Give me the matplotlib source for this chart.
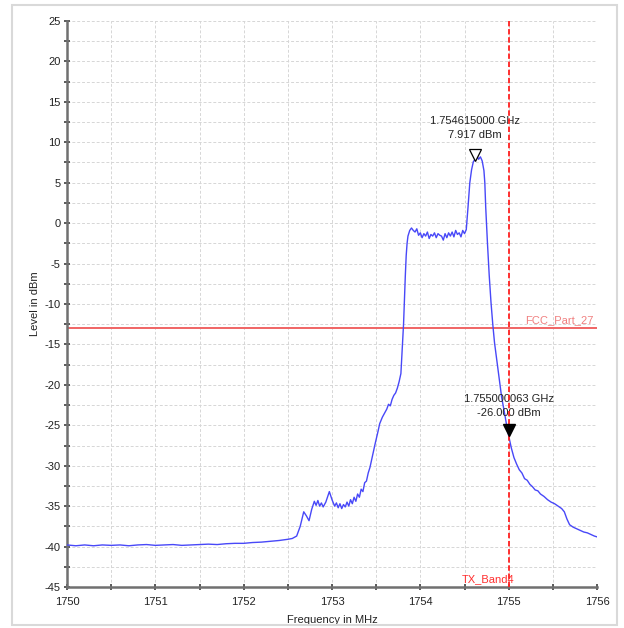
import matplotlib
matplotlib.use("Agg")
import matplotlib.pyplot as plt
from matplotlib.patches import Rectangle
from matplotlib.ticker import MultipleLocator

freq = [1750.0, 1750.1, 1750.2, 1750.3, 1750.4, 1750.5, 1750.6, 1750.7, 1750.8, 1750.9,
        1751.0, 1751.1, 1751.2, 1751.3, 1751.4, 1751.5, 1751.6, 1751.7, 1751.8, 1751.9,
        1752.0, 1752.1, 1752.2, 1752.3, 1752.4, 1752.5, 1752.55, 1752.6,
        1752.64, 1752.68, 1752.71, 1752.74, 1752.77, 1752.80, 1752.82, 1752.84, 1752.86, 1752.88,
        1752.90, 1752.93, 1752.97, 1753.00, 1753.03, 1753.05, 1753.07, 1753.09, 1753.11, 1753.13,
        1753.15, 1753.17, 1753.19, 1753.21, 1753.23, 1753.25, 1753.27, 1753.29, 1753.31, 1753.33,
        1753.35, 1753.37, 1753.39, 1753.41, 1753.43, 1753.46, 1753.49, 1753.52, 1753.54, 1753.57,
        1753.60, 1753.62, 1753.64, 1753.66, 1753.68, 1753.70, 1753.72, 1753.74, 1753.76, 1753.78,
        1753.79, 1753.80, 1753.81, 1753.82, 1753.83, 1753.84, 1753.85, 1753.86, 1753.88, 1753.90,
        1753.92, 1753.94, 1753.96, 1753.98, 1754.00, 1754.02, 1754.04, 1754.06, 1754.08, 1754.10,
        1754.12, 1754.14, 1754.16, 1754.18, 1754.20, 1754.22, 1754.24, 1754.26, 1754.28, 1754.30,
        1754.32, 1754.34, 1754.36, 1754.38, 1754.40, 1754.42, 1754.44, 1754.46, 1754.48, 1754.50,
        1754.52, 1754.54, 1754.56, 1754.58, 1754.60, 1754.62, 1754.64, 1754.66, 1754.68, 1754.70,
        1754.72, 1754.73, 1754.74, 1754.76, 1754.78, 1754.80, 1754.82, 1754.84, 1754.86, 1754.88,
        1754.90, 1754.92, 1754.94, 1754.96, 1754.98, 1755.00, 1755.03, 1755.06, 1755.09, 1755.12,
        1755.15, 1755.18, 1755.21, 1755.24, 1755.27, 1755.30, 1755.33, 1755.36, 1755.40, 1755.44,
        1755.48, 1755.52, 1755.56, 1755.60, 1755.63, 1755.66, 1755.69, 1755.73, 1755.77, 1755.81,
        1755.85, 1755.89, 1755.93, 1755.97, 1756.00]

level = [-39.8, -39.9, -39.8, -39.9, -39.8, -39.85, -39.8, -39.9, -39.8, -39.75,
         -39.85, -39.8, -39.75, -39.85, -39.8, -39.75, -39.7, -39.75, -39.65, -39.6,
         -39.6, -39.5, -39.45, -39.35, -39.25, -39.1, -39.0, -38.7,
         -37.5, -35.7, -36.2, -36.8, -35.4, -34.4, -34.9, -34.3, -35.0, -34.6,
         -35.1, -34.5, -33.2, -34.2, -35.0, -34.6, -35.2, -34.7, -35.3, -34.8,
         -35.1, -34.5, -35.0, -34.2, -34.7, -33.9, -34.4, -33.5, -33.9, -32.9,
         -33.2, -32.1, -31.9, -30.9, -30.2, -28.7, -27.2, -25.8, -24.8, -24.0,
         -23.4, -23.0, -22.4, -22.6, -21.8, -21.3, -21.0, -20.4, -19.6, -18.6,
         -16.5, -14.5, -12.5, -9.5, -6.5, -4.0, -2.5, -1.6, -0.9, -0.6,
         -0.9, -1.1, -0.7, -1.5, -1.2, -1.8, -1.3, -1.6, -1.1, -1.9,
         -1.4, -1.6, -1.2, -1.8, -1.3, -1.5, -1.6, -2.1, -1.3, -1.8,
         -1.2, -1.6, -1.1, -1.7, -0.9, -1.4, -1.2, -1.7, -0.9, -1.3,
         -0.8, 2.0, 5.0, 6.6, 7.6, 7.9, 8.3, 7.9, 8.2, 7.7,
         6.5, 5.0, 2.0, -2.5, -6.5, -9.8, -12.5, -14.8, -16.5, -18.2,
         -19.8, -21.5, -22.7, -23.9, -25.2, -26.3, -27.8, -29.0, -29.8, -30.5,
         -30.9, -31.6, -31.8, -32.3, -32.6, -33.0, -33.1, -33.5, -33.8, -34.2,
         -34.5, -34.7, -35.0, -35.3, -35.7, -36.6, -37.3, -37.6, -37.8, -38.0,
         -38.2, -38.3, -38.5, -38.7, -38.8]

x_ticks = [1750, 1751, 1752, 1753, 1754, 1755, 1756]
y_ticks = [-45, -40, -35, -30, -25, -20, -15, -10, -5, 0, 5, 10, 15, 20, 25]

peak_freq = 1754.615
peak_level = 7.917
m2_freq = 1755.000063
m2_level = -26.0
limit_level = -13.0
limit_name = "FCC_Part_27"
band_edge = 1755.0
band_name = "TX_Band4"

FONT = "Liberation Sans"
plt.rcParams['font.family'] = [FONT, 'DejaVu Sans']
plt.rcParams['axes.unicode_minus'] = False

fig = plt.figure(figsize=(6.24, 6.28), dpi=100)
ax = fig.add_axes([67/624, 1 - 587/628, (597-67)/624, (587-21)/628])

# outer frame
fig.patches.append(Rectangle((12/624, 1 - 625/628), (617-12)/624, (625-5)/628,
                             transform=fig.transFigure, fill=False,
                             edgecolor='#d9d9d9', linewidth=1.5))

ax.set_xlim(1750, 1756)
ax.set_ylim(-45, 25)
ax.set_xticks(x_ticks)
ax.set_yticks(y_ticks)
ax.xaxis.set_minor_locator(MultipleLocator(0.5))
ax.yaxis.set_minor_locator(MultipleLocator(2.5))
ax.grid(True, which='both', color='#d6d6d6', linestyle=(0, (3, 2)), linewidth=0.7)
ax.set_axisbelow(True)

for s in ['top', 'right']:
    ax.spines[s].set_visible(False)
for s in ['left', 'bottom']:
    ax.spines[s].set_color('#707070')
    ax.spines[s].set_linewidth(1.8)

ax.tick_params(which='both', direction='inout', length=5, width=1.2, color='#404040',
               labelsize=8, labelcolor='#222222')
ax.tick_params(axis='x', pad=5)
ax.tick_params(axis='y', pad=2)

ax.plot(freq, level, color='#4848f8', linewidth=1.0, zorder=3)

ax.axhline(limit_level, color='#f06464', linewidth=1.4, zorder=2)
ax.text(1755.96, limit_level + 0.4, limit_name, color='#f08080', fontsize=8,
        ha='right', va='bottom')

ax.axvline(band_edge, color='#ff2020', linewidth=1.3, linestyle=(0, (3, 1.5)), zorder=4)
ax.text(band_edge + 0.06, -44.6, band_name, color='#ff3030', fontsize=8,
        ha='right', va='bottom')

# markers
ax.plot([peak_freq], [peak_level + 0.5], marker='v', markersize=9, markerfacecolor='white',
        markeredgecolor='black', markeredgewidth=0.9, linestyle='none', zorder=5)
ax.text(peak_freq, peak_level + 2.4, f"{peak_freq/1000:.9f} GHz\n{peak_level:.3f} dBm",
        ha='center', va='bottom', fontsize=8, color='#222222', linespacing=1.45)

ax.plot([m2_freq], [m2_level + 0.4], marker='v', markersize=9, markerfacecolor='black',
        markeredgecolor='black', linestyle='none', zorder=5)
ax.text(m2_freq, m2_level + 1.9, f"{m2_freq/1000:.9f} GHz\n{m2_level:.3f} dBm",
        ha='center', va='bottom', fontsize=8, color='#222222', linespacing=1.45)

ax.set_xlabel("Frequency in MHz", fontsize=8, color='#222222')
ax.set_ylabel("Level in dBm", fontsize=8, color='#222222')
ax.xaxis.set_label_coords(0.5, (587 - 620) / 566, transform=ax.transAxes)
ax.yaxis.set_label_coords((35 - 67) / 530, 0.5, transform=ax.transAxes)
ax.xaxis.label.set_va('center')
ax.yaxis.label.set_va('center')

fig.savefig("out.png", dpi=100)
